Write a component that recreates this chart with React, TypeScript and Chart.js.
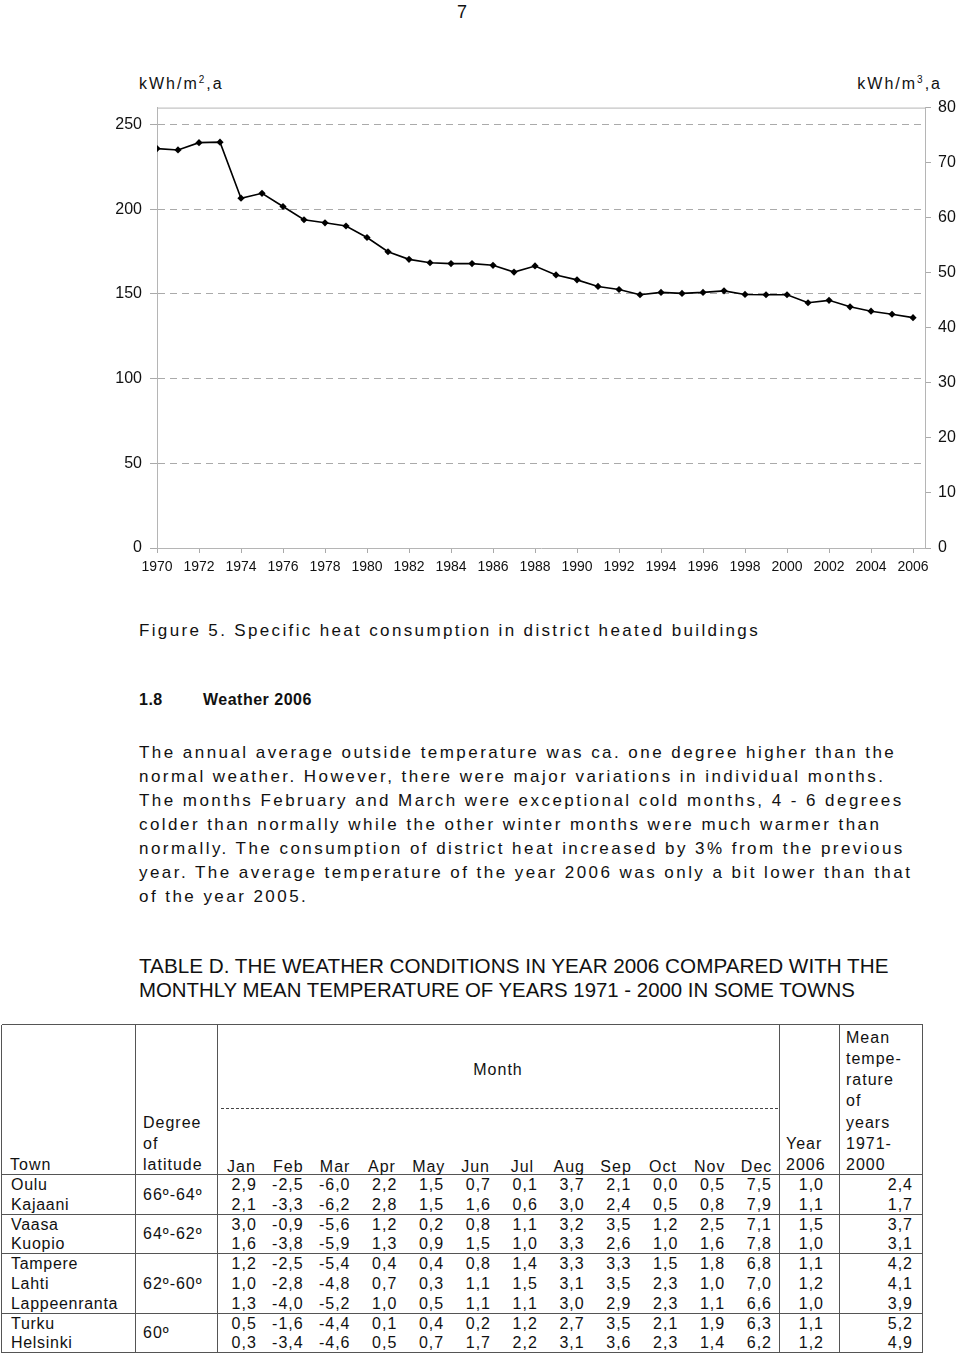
import React, { useEffect, useRef } from 'react';
import { Chart, registerables } from 'chart.js';

Chart.register(...registerables);

// ---------- chart data ----------
const years = [1970, 1971, 1972, 1973, 1974, 1975, 1976, 1977, 1978, 1979, 1980, 1981, 1982, 1983, 1984, 1985, 1986, 1987, 1988, 1989, 1990, 1991, 1992, 1993, 1994, 1995, 1996, 1997, 1998, 1999, 2000, 2001, 2002, 2003, 2004, 2005, 2006];
const consumption = [235.8, 235.0, 239.3, 239.6, 206.5, 209.4, 201.6, 193.8, 192.0, 190.1, 183.3, 174.9, 170.4, 168.4, 167.9, 167.9, 166.9, 162.9, 166.5, 161.2, 158.3, 154.4, 152.6, 149.5, 150.9, 150.3, 150.9, 151.8, 149.7, 149.5, 149.5, 144.8, 146.2, 142.4, 139.8, 138.0, 136.0];
const leftTicks = [0, 50, 100, 150, 200, 250];
const rightTicks = [0, 10, 20, 30, 40, 50, 60, 70, 80];
const xTickYears = [1970, 1972, 1974, 1976, 1978, 1980, 1982, 1984, 1986, 1988, 1990, 1992, 1994, 1996, 1998, 2000, 2002, 2004, 2006];

// ---------- table data ----------
const towns = ['Oulu', 'Kajaani', 'Vaasa', 'Kuopio', 'Tampere', 'Lahti', 'Lappeenranta', 'Turku', 'Helsinki'];
const latitudeLabels = ['66º-64º', '64º-62º', '62º-60º', '60º'];
const groupSizes = [2, 2, 3, 2];
const monthNames = ['Jan', 'Feb', 'Mar', 'Apr', 'May', 'Jun', 'Jul', 'Aug', 'Sep', 'Oct', 'Nov', 'Dec'];
const monthValues = [
  [2.9, -2.5, -6.0, 2.2, 1.5, 0.7, 0.1, 3.7, 2.1, 0.0, 0.5, 7.5],
  [2.1, -3.3, -6.2, 2.8, 1.5, 1.6, 0.6, 3.0, 2.4, 0.5, 0.8, 7.9],
  [3.0, -0.9, -5.6, 1.2, 0.2, 0.8, 1.1, 3.2, 3.5, 1.2, 2.5, 7.1],
  [1.6, -3.8, -5.9, 1.3, 0.9, 1.5, 1.0, 3.3, 2.6, 1.0, 1.6, 7.8],
  [1.2, -2.5, -5.4, 0.4, 0.4, 0.8, 1.4, 3.3, 3.3, 1.5, 1.8, 6.8],
  [1.0, -2.8, -4.8, 0.7, 0.3, 1.1, 1.5, 3.1, 3.5, 2.3, 1.0, 7.0],
  [1.3, -4.0, -5.2, 1.0, 0.5, 1.1, 1.1, 3.0, 2.9, 2.3, 1.1, 6.6],
  [0.5, -1.6, -4.4, 0.1, 0.4, 0.2, 1.2, 2.7, 3.5, 2.1, 1.9, 6.3],
  [0.3, -3.4, -4.6, 0.5, 0.7, 1.7, 2.2, 3.1, 3.6, 2.3, 1.4, 6.2],
];
const year2006 = [1.0, 1.1, 1.5, 1.0, 1.1, 1.2, 1.0, 1.1, 1.2];
const mean19712000 = [2.4, 1.7, 3.7, 3.1, 4.2, 4.1, 3.9, 5.2, 4.9];

const bodyLines = [
  'The annual average outside temperature was ca. one degree higher than the',
  'normal weather. However, there were major variations in individual months.',
  'The months February and March were exceptional cold months, 4 - 6 degrees',
  'colder than normally while the other winter months were much warmer than',
  'normally. The consumption of district heat increased by 3% from the previous',
  'year. The average temperature of the year 2006 was only a bit lower than that',
  'of the year 2005.',
];

const FONT = "'Liberation Sans', Arial, Helvetica, sans-serif";
const fmt = (v: number) => v.toFixed(1).replace('.', ',');

type TProps = {
  x: number; y: number; size?: number; ls?: number; bold?: boolean;
  align?: 'left' | 'right' | 'center'; children: React.ReactNode; lh?: number;
};
function T({ x, y, size = 17, ls = 0, bold = false, align = 'left', children, lh = 24 }: TProps) {
  const style: React.CSSProperties = {
    position: 'absolute', top: y - lh / 2, lineHeight: lh + 'px', fontSize: size,
    letterSpacing: ls, fontWeight: bold ? 'bold' : 'normal', whiteSpace: 'nowrap',
    fontFamily: FONT, color: '#111',
  };
  if (align === 'left') style.left = x;
  else if (align === 'right') style.right = 960 - x;
  else { style.left = x - 200; style.width = 400; style.textAlign = 'center'; }
  return <div style={style}>{children}</div>;
}

function Line({ x1, y1, x2, y2, dashed = false }: { x1: number; y1: number; x2: number; y2: number; dashed?: boolean }) {
  const horiz = y1 === y2;
  const style: React.CSSProperties = horiz
    ? { position: 'absolute', left: x1, top: y1 - 0.75, width: x2 - x1, height: 0, borderTop: '1.5px solid #555' }
    : { position: 'absolute', left: x1 - 0.75, top: y1, height: y2 - y1, width: 0, borderLeft: '1.5px solid #555' };
  if (dashed && horiz) { style.borderTop = '1px dashed #444'; }
  return <div style={style} />;
}

const topFrame = {
  id: 'topFrame',
  beforeDatasetsDraw(chart: any) {
    const { ctx, chartArea: a } = chart;
    ctx.save();
    ctx.strokeStyle = '#b5b5b5';
    ctx.lineWidth = 1;
    ctx.beginPath();
    ctx.moveTo(a.left, a.top + 0.5);
    ctx.lineTo(a.right, a.top + 0.5);
    ctx.stroke();
    ctx.restore();
  },
};

function HeatChart() {
  const ref = useRef<HTMLCanvasElement>(null);
  useEffect(() => {
    if (!ref.current) return;
    const tickFont = { family: FONT, size: 16 };
    const chart = new Chart(ref.current, {
      type: 'line',
      data: {
        datasets: [{
          data: years.map((yr, i) => ({ x: yr, y: consumption[i] })),
          borderColor: '#000', backgroundColor: '#000', borderWidth: 1.6,
          pointStyle: 'rectRot', pointRadius: 3.6, pointBorderWidth: 0, pointBackgroundColor: '#000',
          yAxisID: 'y', tension: 0,
        }],
      },
      options: {
        animation: false, responsive: true, maintainAspectRatio: false,
        layout: { padding: { top: 11, left: 0, right: 0, bottom: 0 } },
        plugins: { legend: { display: false }, tooltip: { enabled: false } },
        scales: {
          x: {
            type: 'linear', min: 1970, max: 2006.57,
            afterBuildTicks: (s: any) => { s.ticks = xTickYears.map((v) => ({ value: v })); },
            afterFit: (s: any) => { s.height = 42; },
            grid: { drawOnChartArea: false, tickLength: 5, color: '#aaa' },
            border: { color: '#b5b5b5' },
            ticks: { font: { family: FONT, size: 14 }, color: '#111', padding: 6, autoSkip: false, maxRotation: 0, callback: (v: any) => String(v) },
          },
          y: {
            position: 'left', min: 0, max: 260,
            afterBuildTicks: (s: any) => { s.ticks = leftTicks.map((v) => ({ value: v })); },
            afterFit: (s: any) => { s.width = 157; },
            grid: { color: '#aaa', tickLength: 7 },
            border: { color: '#b5b5b5', dash: [7, 5] },
            ticks: { font: tickFont, color: '#111', padding: 8, callback: (v: any) => String(v) },
          },
          y2: {
            position: 'right', min: 0, max: 80,
            afterBuildTicks: (s: any) => { s.ticks = rightTicks.map((v) => ({ value: v })); },
            afterFit: (s: any) => { s.width = 35; },
            grid: { drawOnChartArea: false, tickLength: 6, color: '#aaa' },
            border: { color: '#b5b5b5' },
            ticks: { font: tickFont, color: '#111', padding: 7, callback: (v: any) => String(v) },
          },
        },
      } as any,
      plugins: [topFrame],
    });
    return () => chart.destroy();
  }, []);
  return (
    <div style={{ position: 'absolute', left: 0, top: 90, width: 960, height: 500 }}>
      <canvas ref={ref} />
    </div>
  );
}

export default function App() {
  const L = 2, C1 = 136, C2 = 218, C3 = 780, C4 = 840, R = 923;
  const TOP = 1025, HB = 1175, RH = 19.8;
  const colW = (C3 - C2) / 12;
  const bottom = HB + RH * towns.length;
  const groupBounds: number[] = [];
  let acc = 0;
  groupSizes.forEach((g) => { acc += g; groupBounds.push(HB + RH * acc); });
  const groupStarts = [0, 2, 4, 7];
  const tSize = 16, tLs = 1;

  return (
    <div style={{ position: 'absolute', left: 0, top: 0, width: 960, height: 1356, overflow: 'hidden', background: '#fff', fontFamily: FONT }}>
      <T x={462} y={12} size={18} align="center">7</T>

      <T x={139} y={84} size={16} ls={2} lh={20}>kWh/m<sup style={{ fontSize: 10, verticalAlign: 'top', lineHeight: '12px' }}>2</sup>,a</T>
      <T x={942} y={84} size={16} ls={2} lh={20} align="right">kWh/m<sup style={{ fontSize: 10, verticalAlign: 'top', lineHeight: '12px' }}>3</sup>,a</T>

      <HeatChart />

      <T x={139} y={631} size={17} ls={2.35}>Figure 5. Specific heat consumption in district heated buildings</T>

      <T x={139} y={700} size={16} ls={0.5} bold>1.8</T>
      <T x={203} y={700} size={16} ls={0.5} bold>Weather 2006</T>

      {bodyLines.map((ln, i) => (
        <T key={i} x={139} y={753 + 24 * i} size={17} ls={2.45}>{ln}</T>
      ))}

      <T x={139} y={966} size={20.7}>TABLE D. THE WEATHER CONDITIONS IN YEAR 2006 COMPARED WITH THE</T>
      <T x={139} y={990} size={20.4}>MONTHLY MEAN TEMPERATURE OF YEARS 1971 - 2000 IN SOME TOWNS</T>

      {/* table frame */}
      <Line x1={L} y1={TOP} x2={R} y2={TOP} />
      <Line x1={L} y1={HB} x2={R} y2={HB} />
      {groupBounds.map((b, i) => <Line key={'g' + i} x1={L} y1={b} x2={R} y2={b} />)}
      {[L, C1, C2, C3, C4, R].map((x, i) => <Line key={'v' + i} x1={x} y1={TOP} x2={x} y2={bottom} />)}
      <Line x1={C2 + 3} y1={1109} x2={C3 - 2} y2={1109} dashed />

      {/* header */}
      <T x={498} y={1069} size={tSize} ls={tLs} align="center" lh={21}>Month</T>
      <T x={10} y={1164} size={tSize} ls={tLs} lh={21}>Town</T>
      <T x={143} y={1122} size={tSize} ls={tLs} lh={21}>Degree</T>
      <T x={143} y={1143} size={tSize} ls={tLs} lh={21}>of</T>
      <T x={143} y={1164} size={tSize} ls={tLs} lh={21}>latitude</T>
      {monthNames.map((m, i) => (
        <T key={m} x={C2 + colW * (i + 0.5)} y={1166} size={tSize} ls={tLs} align="center" lh={21}>{m}</T>
      ))}
      <T x={786} y={1143} size={tSize} ls={tLs} lh={21}>Year</T>
      <T x={786} y={1164} size={tSize} ls={tLs} lh={21}>2006</T>
      {['Mean', 'tempe-', 'rature', 'of', 'years', '1971-', '2000'].map((w, i) => (
        <T key={w + i} x={846} y={1037 + 21.3 * i} size={tSize} ls={tLs} lh={21}>{w}</T>
      ))}

      {/* rows */}
      {towns.map((town, r) => {
        const cy = HB + RH * (r + 0.5);
        return (
          <React.Fragment key={town}>
            <T x={11} y={cy} size={tSize} ls={0.7} lh={20}>{town}</T>
            {monthValues[r].map((v, c) => (
              <T key={c} x={C2 + colW * (c + 1) - 8} y={cy} size={tSize} ls={tLs} align="right" lh={20}>{fmt(v)}</T>
            ))}
            <T x={824} y={cy} size={tSize} ls={tLs} align="right" lh={20}>{fmt(year2006[r])}</T>
            <T x={913} y={cy} size={tSize} ls={tLs} align="right" lh={20}>{fmt(mean19712000[r])}</T>
          </React.Fragment>
        );
      })}
      {latitudeLabels.map((lab, g) => {
        const y0 = HB + RH * groupStarts[g];
        const y1 = groupBounds[g];
        return <T key={lab} x={143} y={(y0 + y1) / 2} size={tSize} ls={tLs} lh={20}>{lab}</T>;
      })}
    </div>
  );
}
